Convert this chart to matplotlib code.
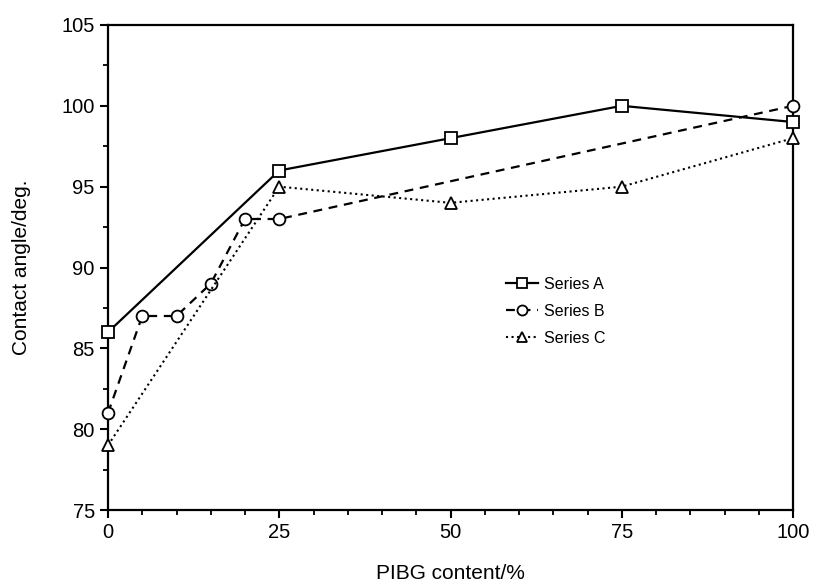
import matplotlib
matplotlib.use("Agg")
import matplotlib.pyplot as plt
from matplotlib.ticker import MultipleLocator

plt.rcParams['font.family'] = ['Liberation Sans', 'DejaVu Sans']

x_a = [0, 25, 50, 75, 100]
y_a = [86, 96, 98, 100, 99]
x_b = [0, 5, 10, 15, 20, 25, 100]
y_b = [81, 87, 87, 89, 93, 93, 100]
x_c = [0, 25, 50, 75, 100]
y_c = [79, 95, 94, 95, 98]
labels = ["Series A", "Series B", "Series C"]

fig = plt.figure(figsize=(8.17, 5.86), dpi=100)
ax = fig.add_axes([108/817, 1-510/586, (793-108)/817, (510-25)/586])

common = dict(color='black', ms=8.5, mfc='white', mec='black', mew=1.3, clip_on=False, zorder=3)
ax.plot(x_a, y_a, '-', lw=1.6, marker='s', label=labels[0], **common)
ax.plot(x_b, y_b, '--', lw=1.6, dashes=(4, 3), marker='o', label=labels[1], **common)
ax.plot(x_c, y_c, ':', lw=1.5, marker='^', label=labels[2], **common)

ax.set_xlim(0, 100)
ax.set_ylim(75, 105)
ax.xaxis.set_major_locator(MultipleLocator(25))
ax.xaxis.set_minor_locator(MultipleLocator(5))
ax.yaxis.set_major_locator(MultipleLocator(5))
ax.yaxis.set_minor_locator(MultipleLocator(2.5))
ax.tick_params(which='major', direction='out', length=6, width=1.5, labelsize=14.5)
ax.tick_params(which='minor', direction='out', length=3.5, width=1.3)
for s in ax.spines.values():
    s.set_linewidth(1.6)

ax.set_xlabel("PIBG content/%", fontsize=15, labelpad=16)
ax.set_ylabel("Contact angle/deg.", fontsize=15, labelpad=22)

leg = ax.legend(loc='upper left', bbox_to_anchor=(0.56, 0.51), frameon=False, fontsize=11.5,
                handlelength=2.0, handletextpad=0.4, labelspacing=0.75, markerscale=0.85)

fig.savefig("out.png", dpi=100)
